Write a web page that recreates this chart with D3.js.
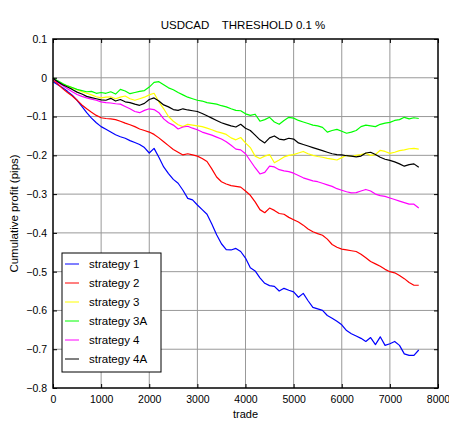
<!DOCTYPE html>
<html>
<head>
<meta charset="utf-8">
<script src="https://cdn.jsdelivr.net/npm/d3@7"></script>
<style>
  html, body { margin: 0; padding: 0; background: #fff; }
  svg { display: block; font-family: Arial, "Liberation Sans", sans-serif; }
</style>
</head>
<body>
<svg id="chart" width="449" height="423"></svg>
<script>
// Trade index at which each cumulative value was sampled
const trades = d3.range(0, 7601, 100);

const strategy1 = [-0.010,-0.018,-0.026,-0.035,-0.045,-0.058,-0.074,-0.090,-0.104,-0.116,
  -0.126,-0.133,-0.140,-0.147,-0.152,-0.156,-0.162,-0.167,-0.172,-0.180,
  -0.194,-0.182,-0.205,-0.230,-0.247,-0.262,-0.272,-0.290,-0.311,-0.315,
  -0.328,-0.340,-0.352,-0.377,-0.405,-0.428,-0.443,-0.444,-0.440,-0.448,
  -0.465,-0.490,-0.498,-0.516,-0.530,-0.536,-0.538,-0.550,-0.543,-0.548,
  -0.552,-0.566,-0.556,-0.575,-0.592,-0.596,-0.600,-0.613,-0.620,-0.628,
  -0.637,-0.652,-0.660,-0.666,-0.672,-0.680,-0.670,-0.688,-0.668,-0.690,
  -0.686,-0.680,-0.690,-0.712,-0.716,-0.716,-0.702];

const strategy2 = [-0.005,-0.016,-0.028,-0.038,-0.047,-0.058,-0.070,-0.080,-0.089,-0.097,
  -0.103,-0.105,-0.106,-0.108,-0.112,-0.117,-0.121,-0.126,-0.132,-0.136,
  -0.140,-0.146,-0.155,-0.165,-0.175,-0.185,-0.192,-0.199,-0.196,-0.199,
  -0.202,-0.208,-0.216,-0.235,-0.256,-0.268,-0.274,-0.278,-0.280,-0.282,
  -0.292,-0.303,-0.320,-0.340,-0.348,-0.336,-0.342,-0.350,-0.352,-0.360,
  -0.366,-0.372,-0.380,-0.390,-0.397,-0.402,-0.406,-0.416,-0.430,-0.437,
  -0.442,-0.444,-0.446,-0.448,-0.455,-0.464,-0.474,-0.480,-0.486,-0.494,
  -0.500,-0.503,-0.510,-0.518,-0.528,-0.535,-0.535];

const strategy3 = [-0.002,-0.010,-0.017,-0.021,-0.026,-0.031,-0.036,-0.040,-0.044,-0.049,
  -0.052,-0.050,-0.049,-0.054,-0.050,-0.047,-0.054,-0.058,-0.054,-0.050,
  -0.044,-0.040,-0.062,-0.080,-0.100,-0.112,-0.121,-0.126,-0.120,-0.122,
  -0.124,-0.126,-0.130,-0.134,-0.139,-0.142,-0.146,-0.155,-0.160,-0.154,
  -0.168,-0.180,-0.202,-0.208,-0.202,-0.198,-0.219,-0.212,-0.204,-0.200,
  -0.198,-0.194,-0.190,-0.196,-0.200,-0.203,-0.205,-0.208,-0.210,-0.212,
  -0.206,-0.200,-0.203,-0.200,-0.198,-0.195,-0.200,-0.198,-0.187,-0.190,
  -0.195,-0.192,-0.188,-0.186,-0.183,-0.182,-0.184];

const strategy3A = [0.000,-0.008,-0.015,-0.021,-0.025,-0.030,-0.033,-0.036,-0.035,-0.040,
  -0.038,-0.040,-0.036,-0.042,-0.030,-0.034,-0.041,-0.038,-0.035,-0.033,
  -0.024,-0.012,-0.010,-0.018,-0.026,-0.031,-0.038,-0.044,-0.050,-0.054,
  -0.058,-0.060,-0.064,-0.066,-0.068,-0.072,-0.075,-0.080,-0.084,-0.085,
  -0.093,-0.097,-0.094,-0.112,-0.108,-0.102,-0.114,-0.120,-0.110,-0.102,
  -0.104,-0.110,-0.114,-0.118,-0.122,-0.124,-0.128,-0.140,-0.136,-0.133,
  -0.138,-0.143,-0.140,-0.136,-0.126,-0.122,-0.124,-0.126,-0.120,-0.117,
  -0.115,-0.110,-0.108,-0.102,-0.106,-0.103,-0.105];

const strategy4 = [-0.002,-0.012,-0.020,-0.028,-0.036,-0.043,-0.048,-0.052,-0.055,-0.058,
  -0.062,-0.064,-0.065,-0.067,-0.068,-0.074,-0.080,-0.087,-0.090,-0.084,
  -0.080,-0.082,-0.090,-0.106,-0.116,-0.122,-0.132,-0.127,-0.125,-0.130,
  -0.134,-0.140,-0.144,-0.148,-0.153,-0.158,-0.165,-0.174,-0.184,-0.186,
  -0.196,-0.214,-0.232,-0.248,-0.244,-0.228,-0.230,-0.237,-0.240,-0.242,
  -0.246,-0.252,-0.258,-0.262,-0.266,-0.268,-0.272,-0.276,-0.280,-0.286,
  -0.290,-0.294,-0.297,-0.296,-0.292,-0.288,-0.292,-0.300,-0.304,-0.306,
  -0.310,-0.314,-0.318,-0.322,-0.326,-0.326,-0.336];

const strategy4A = [-0.002,-0.010,-0.018,-0.024,-0.030,-0.037,-0.042,-0.048,-0.051,-0.054,
  -0.057,-0.058,-0.053,-0.060,-0.056,-0.062,-0.064,-0.068,-0.071,-0.066,
  -0.056,-0.052,-0.060,-0.070,-0.075,-0.082,-0.084,-0.080,-0.083,-0.085,
  -0.087,-0.092,-0.098,-0.104,-0.110,-0.116,-0.120,-0.124,-0.127,-0.120,
  -0.130,-0.136,-0.148,-0.160,-0.168,-0.155,-0.150,-0.158,-0.160,-0.156,
  -0.158,-0.168,-0.172,-0.176,-0.180,-0.184,-0.188,-0.192,-0.196,-0.198,
  -0.199,-0.201,-0.202,-0.204,-0.202,-0.194,-0.192,-0.198,-0.205,-0.210,
  -0.213,-0.217,-0.222,-0.228,-0.224,-0.222,-0.231];

const seriesNames = ["strategy 1", "strategy 2", "strategy 3", "strategy 3A", "strategy 4", "strategy 4A"];
const seriesValues = [strategy1, strategy2, strategy3, strategy3A, strategy4, strategy4A];
const seriesColors = ["#0000ff", "#ff0000", "#ffff00", "#00ff00", "#ff00ff", "#000000"];

const xTicks = [0, 1000, 2000, 3000, 4000, 5000, 6000, 7000, 8000];
const yTicks = [0.1, 0, -0.1, -0.2, -0.3, -0.4, -0.5, -0.6, -0.7, -0.8];

const titleText = "USDCAD    THRESHOLD 0.1 %";
const xLabel = "trade";
const yLabel = "Cumulative profit (pips)";

// Layout
const plot = { left: 53, right: 438, top: 39, bottom: 388 };
const svg = d3.select("#chart");

const x = d3.scaleLinear().domain([0, 8000]).range([plot.left, plot.right]);
const y = d3.scaleLinear().domain([-0.8, 0.1]).range([plot.bottom, plot.top]);

// Grid
const grid = svg.append("g").attr("class", "grid");
grid.selectAll("line.gx").data(xTicks.slice(1, -1)).join("line")
  .attr("x1", d => x(d)).attr("x2", d => x(d))
  .attr("y1", plot.top).attr("y2", plot.bottom)
  .attr("stroke", "#999").attr("stroke-width", 1);
grid.selectAll("line.gy").data(yTicks.slice(1, -1)).join("line")
  .attr("y1", d => y(d)).attr("y2", d => y(d))
  .attr("x1", plot.left).attr("x2", plot.right)
  .attr("stroke", "#999").attr("stroke-width", 1);

// Series lines
const line = d3.line().x((d, i) => x(trades[i])).y(d => y(d));
const lines = svg.append("g").attr("class", "series");
seriesValues.forEach((vals, k) => {
  lines.append("path")
    .datum(vals)
    .attr("fill", "none")
    .attr("stroke", seriesColors[k])
    .attr("stroke-width", 1.2)
    .attr("stroke-linejoin", "round")
    .attr("d", line);
});

// Axes (ticks inward on all four sides)
const fmtY = d => d3.format("")(Math.round(d * 10) / 10);
const axisStyle = g => {
  g.select(".domain").remove();
  g.selectAll(".tick line").attr("stroke", "#000");
  g.selectAll("text").attr("font-size", 10.5).attr("fill", "#000")
    .attr("font-family", "Arial, 'Liberation Sans', sans-serif");
};
svg.append("g").attr("transform", `translate(0,${plot.bottom})`)
  .call(d3.axisBottom(x).tickValues(xTicks).tickSize(-4).tickPadding(8).tickFormat(d3.format("d")))
  .call(axisStyle);
svg.append("g").attr("transform", `translate(0,${plot.top})`)
  .call(d3.axisTop(x).tickValues(xTicks).tickSize(-4).tickFormat(""))
  .call(axisStyle);
svg.append("g").attr("transform", `translate(${plot.left},0)`)
  .call(d3.axisLeft(y).tickValues(yTicks).tickSize(-4).tickPadding(6).tickFormat(fmtY))
  .call(axisStyle);
svg.append("g").attr("transform", `translate(${plot.right},0)`)
  .call(d3.axisRight(y).tickValues(yTicks).tickSize(-4).tickFormat(""))
  .call(axisStyle);

// Box
svg.append("rect")
  .attr("x", plot.left).attr("y", plot.top)
  .attr("width", plot.right - plot.left).attr("height", plot.bottom - plot.top)
  .attr("fill", "none").attr("stroke", "#000").attr("stroke-width", 1.5);

// Titles
svg.append("text")
  .attr("x", 243).attr("y", 29)
  .attr("text-anchor", "middle").attr("font-size", 11.5)
  .style("white-space", "pre")
  .text(titleText);
svg.append("text")
  .attr("x", (plot.left + plot.right) / 2).attr("y", 418)
  .attr("text-anchor", "middle").attr("font-size", 11)
  .text(xLabel);
svg.append("text")
  .attr("transform", `translate(18,${(plot.top + plot.bottom) / 2}) rotate(-90)`)
  .attr("text-anchor", "middle").attr("font-size", 11.5)
  .text(yLabel);

// Legend
const legend = svg.append("g").attr("class", "legend");
legend.append("rect")
  .attr("x", 62).attr("y", 253).attr("width", 99).attr("height", 119)
  .attr("fill", "#fff").attr("stroke", "#000").attr("stroke-width", 1);
seriesNames.forEach((name, k) => {
  const cy = 264 + k * 19;
  legend.append("line")
    .attr("x1", 65).attr("x2", 79).attr("y1", cy).attr("y2", cy)
    .attr("stroke", seriesColors[k]).attr("stroke-width", 1);
  legend.append("text")
    .attr("x", 89).attr("y", cy + 4)
    .attr("font-size", 11.5)
    .text(name);
});
</script>
</body>
</html>
